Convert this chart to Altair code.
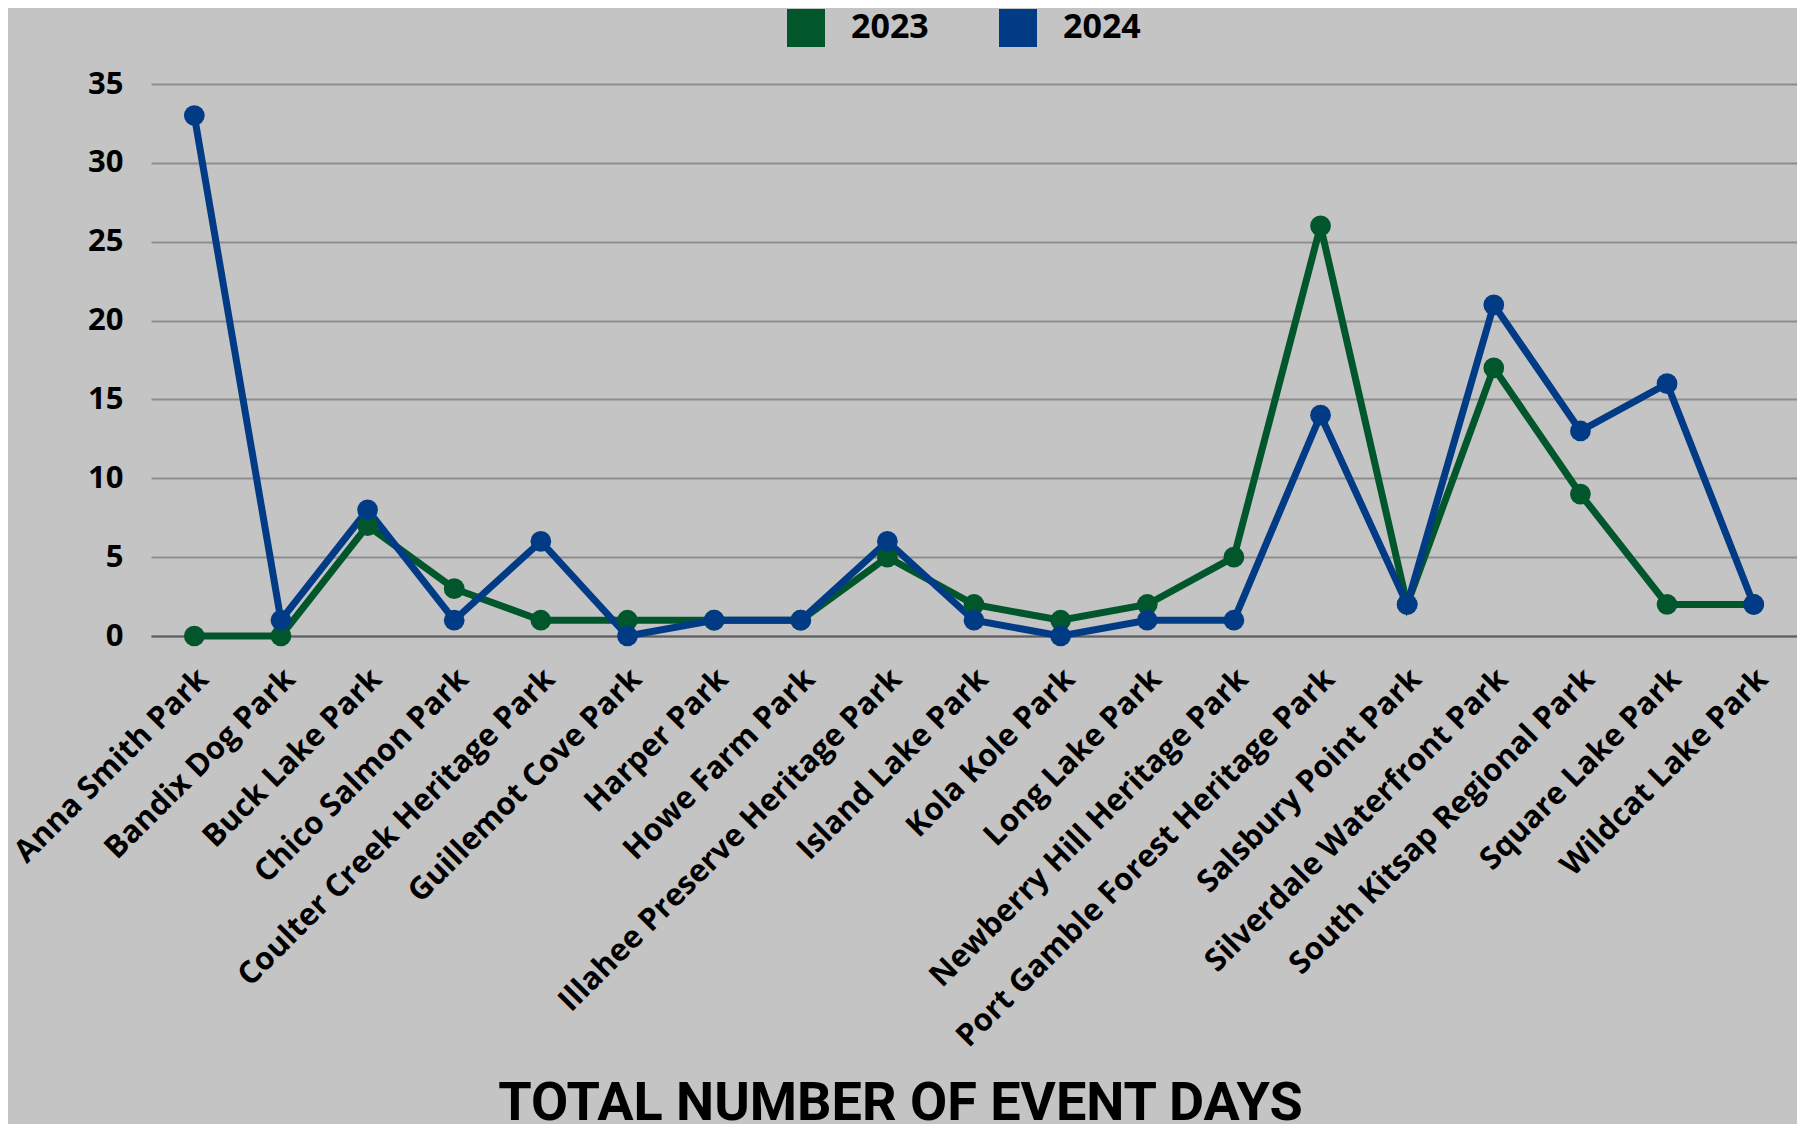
import altair as alt
import pandas as pd

parks = ["Anna Smith Park", "Bandix Dog Park", "Buck Lake Park", "Chico Salmon Park",
         "Coulter Creek Heritage Park", "Guillemot Cove Park", "Harper Park", "Howe Farm Park",
         "Illahee Preserve Heritage Park", "Island Lake Park", "Kola Kole Park", "Long Lake Park",
         "Newberry Hill Heritage Park", "Port Gamble Forest Heritage Park", "Salsbury Point Park",
         "Silverdale Waterfront Park", "South Kitsap Regional Park", "Square Lake Park",
         "Wildcat Lake Park"]
days_2023 = [0, 0, 7, 3, 1, 1, 1, 1, 5, 2, 1, 2, 5, 26, 2, 17, 9, 2, 2]
days_2024 = [33, 1, 8, 1, 6, 0, 1, 1, 6, 1, 0, 1, 1, 14, 2, 21, 13, 16, 2]
years = ["2023", "2024"]
colors = ["#01562C", "#023B85"]
y_ticks = [0, 5, 10, 15, 20, 25, 30, 35]

rows = []
for yr, vals in zip(years, [days_2023, days_2024]):
    for p, v in zip(parks, vals):
        rows.append({"park": p, "days": v, "year": yr})
df = pd.DataFrame(rows)

FONT = "Open Sans"
TITLE_FONT = "Roboto, sans-serif"

x = alt.X("park:N", sort=parks,
          scale=alt.Scale(type="point", padding=0.5),
          axis=alt.Axis(title="TOTAL NUMBER OF EVENT DAYS", labelAngle=-45, labelAlign="right",
                        labelBaseline="middle", labelFontSize=31, labelFont=FONT,
                        labelFontWeight="bold", labelColor="#000000", labelPadding=38,
                        labelOffset=9, ticks=False, grid=False, domain=True,
                        domainColor="#5e5e5e", domainWidth=2, labelLimit=1000,
                        titleFont=TITLE_FONT, titleFontSize=54,
                        titleFontWeight="bold", titleColor="#000000",
                        titleBaseline="alphabetic", titleY=483, titleX=749,
                        titleAnchor="middle", titleAlign="center"))
y = alt.Y("days:Q", scale=alt.Scale(domain=[0, 35], nice=False),
          axis=alt.Axis(title=None, values=y_ticks, labelFontSize=31, labelFont=FONT,
                        labelFontWeight="bold", labelColor="#000000", labelPadding=28,
                        ticks=False, domain=False, grid=True, gridColor="#8e8e8e",
                        gridWidth=2))

line_layers = [
    alt.Chart(df).transform_filter(alt.datum.year == yr)
    .mark_line(strokeWidth=7, opacity=1, color=c)
    .encode(x=x, y=y)
    for yr, c in zip(years, colors)
]
points = alt.Chart(df).mark_circle(size=430, opacity=1).encode(
    x=x, y=y,
    color=alt.Color("year:N", scale=alt.Scale(domain=years, range=colors),
                    legend=alt.Legend(orient="none", legendX=636, legendY=-75,
                                      direction="horizontal", title=None,
                                      symbolType="square", symbolSize=1444,
                                      symbolStrokeWidth=0, symbolOpacity=1,
                                      labelFontSize=34, labelFont=FONT,
                                      labelFontWeight="bold", labelColor="#000000",
                                      labelOffset=26, columnPadding=70)),
)

chart = alt.layer(*line_layers, points).properties(
    width=1646, height=552,
    background="#c4c4c4",
    autosize=alt.AutoSizeParams(type="none"),
    padding={"left": 143, "top": 76, "right": 0, "bottom": 488},
).configure_view(stroke=None)

chart.save("out.html", embed_options={"renderer": "svg", "actions": False})
